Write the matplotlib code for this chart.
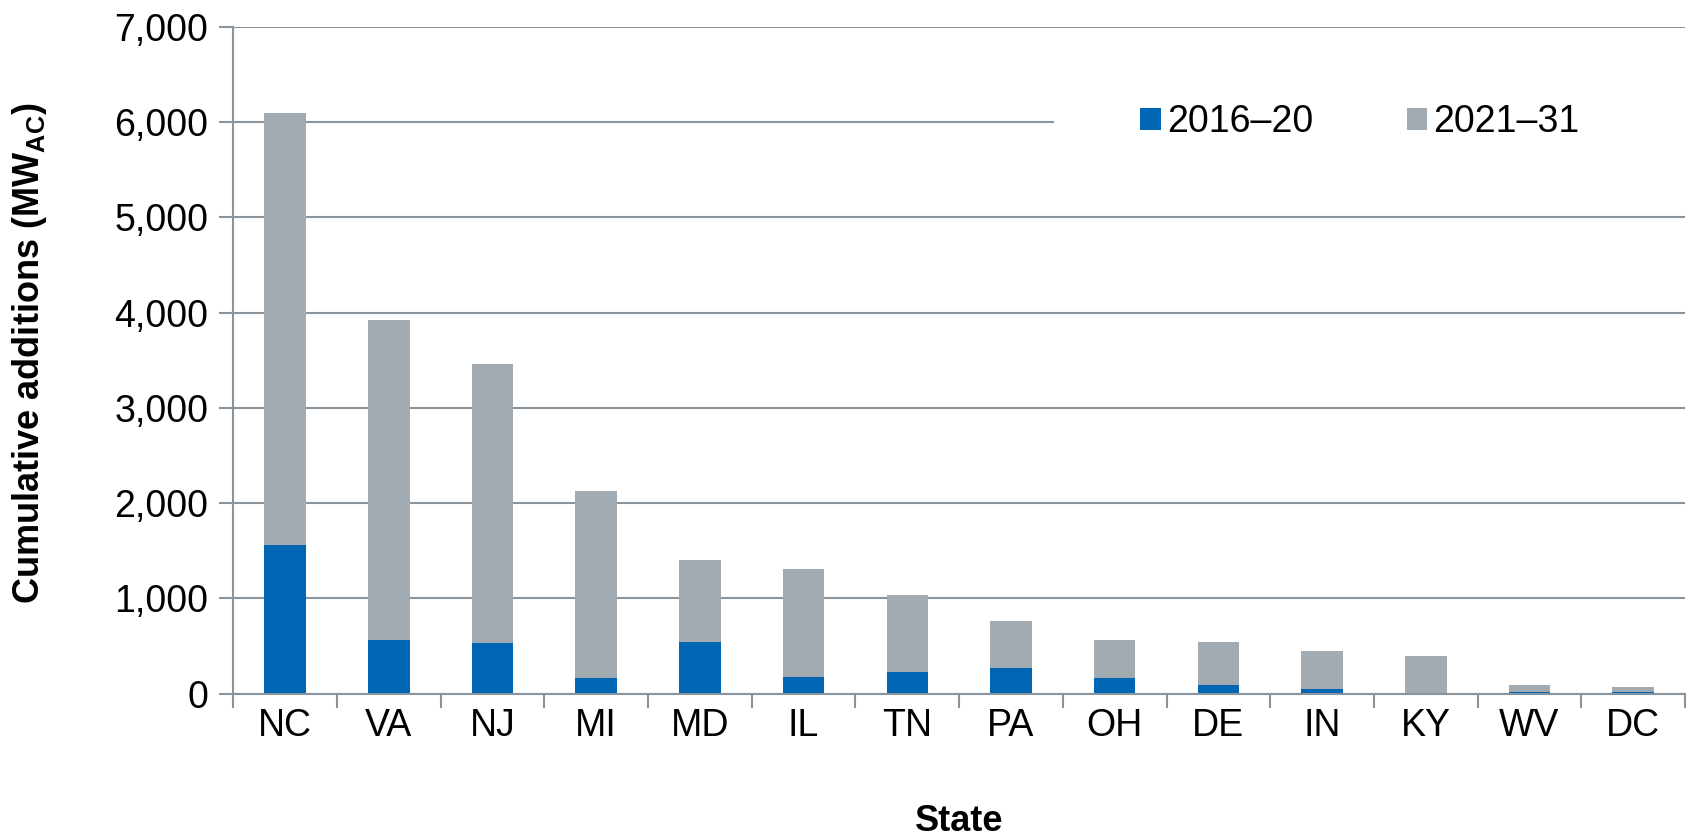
import numpy as np
import matplotlib
matplotlib.use('Agg')
import matplotlib.pyplot as plt
from matplotlib.patches import Rectangle
from matplotlib import font_manager

# Values (MW_AC)
states = ['NC', 'VA', 'NJ', 'MI', 'MD', 'IL', 'TN', 'PA', 'OH', 'DE', 'IN', 'KY', 'WV', 'DC']
early = [1565, 565, 535, 160, 545, 170, 230, 270, 160, 95, 50, 8, 18, 18]
totals = [6100, 3920, 3460, 2130, 1400, 1305, 1035, 760, 565, 540, 445, 395, 95, 68]
late = [t - e for t, e in zip(totals, early)]

blue = '#0066b3'
grey = '#a2abb1'
axis_col = '#8a949e'

plt.rcParams['font.family'] = ['Liberation Sans', 'DejaVu Sans']

# narrow bold for the y label if the system has it
names = {f.name for f in font_manager.fontManager.ttflist}
narrow = 'Liberation Sans Narrow' in names

fig = plt.figure(figsize=(16.94, 8.38), dpi=100)
ax = fig.add_axes([0.1377, 0.1723, 0.857, 0.7957])

x = np.arange(len(states))
ax.bar(x, early, width=0.4, color=blue, label='2016–20', zorder=3)
ax.bar(x, late, width=0.4, bottom=early, color=grey, label='2021–31', zorder=3)

ax.set_xlim(-0.5, len(states) - 0.5)
ax.set_ylim(0, 7000)
ax.set_yticks(np.arange(0, 7001, 1000))
ax.set_yticklabels([f'{v:,}' for v in range(0, 7001, 1000)])

# ticks between categories, labels at the centres
ax.set_xticks(np.arange(-0.5, len(states), 1.0))
ax.set_xticklabels([])
ax.set_xticks(x, minor=True)
ax.set_xticklabels(states, minor=True)
ax.tick_params(axis='x', which='major', length=10, width=1.5, color=axis_col)
ax.tick_params(axis='x', which='minor', length=0, pad=10, labelsize=27)
ax.tick_params(axis='y', length=10, width=1.5, color=axis_col, labelsize=27, pad=8)

ax.grid(axis='y', color=axis_col, linewidth=1.5)
for side in ['top', 'right']:
    ax.spines[side].set_visible(False)
for side in ['left', 'bottom']:
    ax.spines[side].set_color(axis_col)
    ax.spines[side].set_linewidth(1.5)
ax.spines['bottom'].set_zorder(4)

if narrow:
    ax.set_ylabel('Cumulative additions (MW$_{\\mathregular{AC}}$)', fontsize=28,
                  fontweight='bold', family=['Liberation Sans Narrow', 'Liberation Sans'])
else:
    ax.set_ylabel('Cumulative additions (MW$_{\\mathregular{AC}}$)', fontsize=26,
                  fontweight='bold')
ax.yaxis.set_label_coords(-0.127, 0.51)
ax.set_xlabel('State', fontsize=26, fontweight='bold')
ax.xaxis.set_label_coords(0.5, -0.165)

# white block behind the legend hides the 6,000 gridline on the right
ax.add_patch(Rectangle((0.565, 0.80), 0.44, 0.11, transform=ax.transAxes,
                       facecolor='white', edgecolor='none', zorder=2, clip_on=False))

leg = ax.legend(loc='center', bbox_to_anchor=(0.776, 0.857), ncol=2, fontsize=27,
                frameon=False, handlelength=0.55, handleheight=0.55,
                handletextpad=0.15, columnspacing=2.5, borderaxespad=0)
leg.set_zorder(5)

fig.savefig('out.png', dpi=100)
